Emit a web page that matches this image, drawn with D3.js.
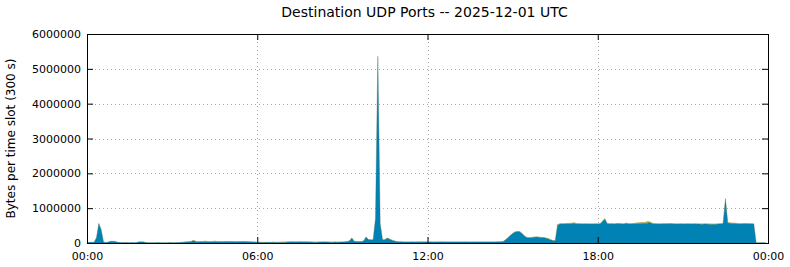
<!DOCTYPE html>
<html>
<head>
<meta charset="utf-8">
<script src="https://cdn.jsdelivr.net/npm/d3@7"></script>
<style>
  body { margin: 0; background: #fff; }
  svg { display: block; font-family: "DejaVu Sans", sans-serif; }
</style>
</head>
<body>
<div id="chart"></div>
<script>
// values in thousands of bytes, one per 5 minute slot (288 per day)
const blueKB = [
  20,18,20,25,150,560,380,30,15,30,50,50,
  45,20,12,12,15,12,10,12,10,15,35,35,
  30,12,10,8,10,10,12,10,8,10,10,12,
  10,10,12,15,20,25,30,35,40,70,45,35,
  40,40,42,40,38,40,42,40,40,38,40,42,
  40,42,40,38,40,40,42,40,38,35,30,30,
  25,25,20,22,25,20,22,25,20,22,20,22,
  25,30,30,35,30,32,35,30,32,35,30,30,
  25,25,28,30,32,30,28,25,25,30,25,28,
  30,35,40,60,140,50,40,40,40,60,170,100,
  90,90,700,5360,550,90,95,140,110,80,60,40,
  35,35,30,30,30,32,30,30,35,30,30,30,
  30,32,30,30,30,30,30,30,30,30,30,30,
  30,30,30,30,32,30,30,30,30,30,30,30,
  30,30,30,30,30,32,35,38,45,90,150,215,
  270,313,330,325,270,200,160,150,158,165,170,168,
  160,155,140,125,95,70,65,520,545,545,548,545,
  545,550,570,550,548,545,545,548,545,545,545,548,
  545,550,620,690,560,548,550,545,560,555,548,545,
  565,550,545,550,555,560,560,565,565,570,590,560,
  550,548,545,548,550,548,552,555,548,545,545,548,
  545,545,548,545,545,548,545,542,540,545,545,540,
  540,538,540,545,548,560,1270,575,565,560,562,555,
  548,550,555,552,550,548,545,10,8,8,8,8
];
const greenKB = [
  0,0,0,0,5,10,8,0,0,0,5,5, 5,0,0,0,0,0,0,0,0,0,3,3,
  3,0,0,0,0,0,0,0,0,0,0,0, 0,0,0,0,3,5,5,5,5,8,5,5,
  5,5,8,5,5,5,8,5,5,5,8,5, 5,5,8,5,5,5,5,5,3,3,3,3,
  0,0,3,3,0,0,3,3,0,0,3,3, 3,3,5,5,3,3,5,5,3,3,3,3,
  3,3,3,3,3,3,3,3,3,3,3,3, 3,3,3,5,10,5,3,3,3,5,10,5,
  5,5,5,15,5,5,5,8,5,5,3,3, 3,3,3,3,3,3,3,3,3,3,3,3,
  3,3,3,3,3,3,3,3,3,3,3,3, 3,3,3,3,3,3,3,3,3,3,3,3,
  3,3,3,3,3,3,3,3,3,5,5,8, 8,10,10,10,8,8,8,8,8,8,8,8,
  8,8,8,8,5,5,5,10,12,12,15,20, 25,25,15,12,12,12,10,10,10,10,10,10,
  10,10,12,15,10,10,10,10,10,10,12,10, 10,12,15,20,20,22,25,25,25,25,20,15,
  12,10,10,10,12,12,12,12,10,10,10,10, 10,10,10,10,10,10,10,10,10,10,10,10,
  10,10,10,10,10,10,20,12,15,15,15,12, 12,12,12,12,12,12,10,0,0,0,0,0
];
const orangeKB = [
  0,0,0,0,0,5,5,0,0,0,0,0, 0,0,5,8,10,5,0,0,0,0,0,0,
  0,0,0,0,0,0,0,0,0,0,0,0, 0,0,0,0,0,5,10,12,10,8,10,5,
  8,10,12,10,8,10,12,10,8,10,10,8, 8,10,8,10,8,5,5,5,5,5,5,5,
  0,0,5,5,0,0,5,5,0,8,10,8, 10,12,10,12,10,8,10,8,5,5,5,5,
  5,5,5,5,8,10,5,5,5,5,5,5, 5,5,5,5,5,5,5,5,5,5,5,5,
  5,5,5,5,5,5,5,5,5,5,5,5, 5,5,5,5,5,5,5,5,5,5,8,8,
  5,5,5,5,5,8,10,8,5,5,5,5, 5,5,5,5,5,5,5,5,5,5,5,5,
  5,5,5,5,5,5,5,5,5,5,5,5, 5,5,5,5,5,5,5,5,5,5,5,5,
  5,5,5,5,5,5,5,5,5,5,5,5, 5,5,5,5,5,5,5,5,5,5,5,5,
  5,5,5,5,5,5,5,5,5,5,5,5, 5,5,5,5,8,10,12,15,15,30,8,5,
  5,5,5,5,5,5,5,5,5,5,5,5, 5,5,5,5,5,5,5,5,5,5,5,5,
  5,5,5,5,5,5,10,5,5,5,5,5, 5,5,5,5,5,5,5,0,0,0,0,0
];
const seriesNames = ["blue", "green", "orange"];
const seriesColors = { blue: "#0082b4", green: "#62a03a", orange: "#e0903e" };
const yTickValues = [0, 1000000, 2000000, 3000000, 4000000, 5000000, 6000000];
const titleText = "Destination UDP Ports -- 2025-12-01 UTC";
const yLabelText = "Bytes per time slot (300 s)";

const W = 790, H = 267;
const m = { left: 87, right: 22, top: 34, bottom: 24 };

const day0 = Date.UTC(2025, 11, 1);
const rows = blueKB.map((v, i) => ({
  t: new Date(day0 + i * 300000),
  blue: v * 1000,
  green: greenKB[i] * 1000,
  orange: orangeKB[i] * 1000
}));

const svg = d3.select("#chart").append("svg")
  .attr("width", W).attr("height", H);

const x = d3.scaleUtc()
  .domain([new Date(day0), new Date(day0 + 86400000)])
  .range([m.left, W - m.right]);
const y = d3.scaleLinear()
  .domain([0, 6000000])
  .range([H - m.bottom, m.top]);

const xTicks = d3.utcHour.every(6).range(new Date(day0), new Date(day0 + 86400001));

// grid
const grid = svg.append("g")
  .attr("stroke", "#aaa").attr("stroke-width", 1).attr("stroke-dasharray", "1,3");
grid.selectAll("line.h").data(yTickValues.slice(1, -1)).enter().append("line")
  .attr("x1", m.left).attr("x2", W - m.right)
  .attr("y1", d => Math.round(y(d)) + 0.5).attr("y2", d => Math.round(y(d)) + 0.5);
grid.selectAll("line.v").data(xTicks.slice(1, -1)).enter().append("line")
  .attr("y1", m.top).attr("y2", H - m.bottom)
  .attr("x1", d => Math.round(x(d)) + 0.5).attr("x2", d => Math.round(x(d)) + 0.5);

const stack = d3.stack().keys(seriesNames);
const layers = stack(rows);

const area = d3.area()
  .x(d => x(d.data.t))
  .y0(d => y(d[0]))
  .y1(d => y(d[1]));

// thin layers drawn as fills only, blue gets a faint dark edge
svg.append("g").selectAll("path")
  .data(layers).enter().append("path")
  .attr("d", area)
  .attr("fill", d => seriesColors[d.key])
  .attr("stroke", d => d.key === "blue" ? "#3f6f60" : "none")
  .attr("stroke-width", 0.35);

// axes with inward ticks
const fmt = d3.utcFormat("%H:%M");
const axLeft = svg.append("g").attr("transform", `translate(${m.left},0)`)
  .call(d3.axisLeft(y).tickValues(yTickValues).tickFormat(d3.format("d")).tickSize(-6).tickPadding(6));
const axRight = svg.append("g").attr("transform", `translate(${W - m.right},0)`)
  .call(d3.axisRight(y).tickValues(yTickValues).tickFormat("").tickSize(-6));
const axBottom = svg.append("g").attr("transform", `translate(0,${H - m.bottom})`)
  .call(d3.axisBottom(x).tickValues(xTicks).tickFormat(fmt).tickSize(-6).tickPadding(9));
const axTop = svg.append("g").attr("transform", `translate(0,${m.top})`)
  .call(d3.axisTop(x).tickValues(xTicks).tickFormat("").tickSize(-6));

[axLeft, axRight, axBottom, axTop].forEach(g => {
  g.select(".domain").remove();
  g.selectAll("text").attr("font-size", 11).attr("fill", "#000").attr("font-family", "DejaVu Sans");
  g.selectAll("line").attr("stroke", "#000");
});

svg.append("rect")
  .attr("x", m.left + 0.5).attr("y", m.top + 0.5)
  .attr("width", W - m.right - m.left).attr("height", H - m.bottom - m.top)
  .attr("fill", "none").attr("stroke", "#000");

svg.append("text")
  .attr("x", (m.left + W - m.right) / 2 - 3).attr("y", 17)
  .attr("text-anchor", "middle").attr("font-size", 14)
  .text(titleText);

svg.append("text")
  .attr("transform", `translate(15,${(m.top + H - m.bottom) / 2}) rotate(-90)`)
  .attr("text-anchor", "middle").attr("font-size", 12)
  .text(yLabelText);
</script>
</body>
</html>
